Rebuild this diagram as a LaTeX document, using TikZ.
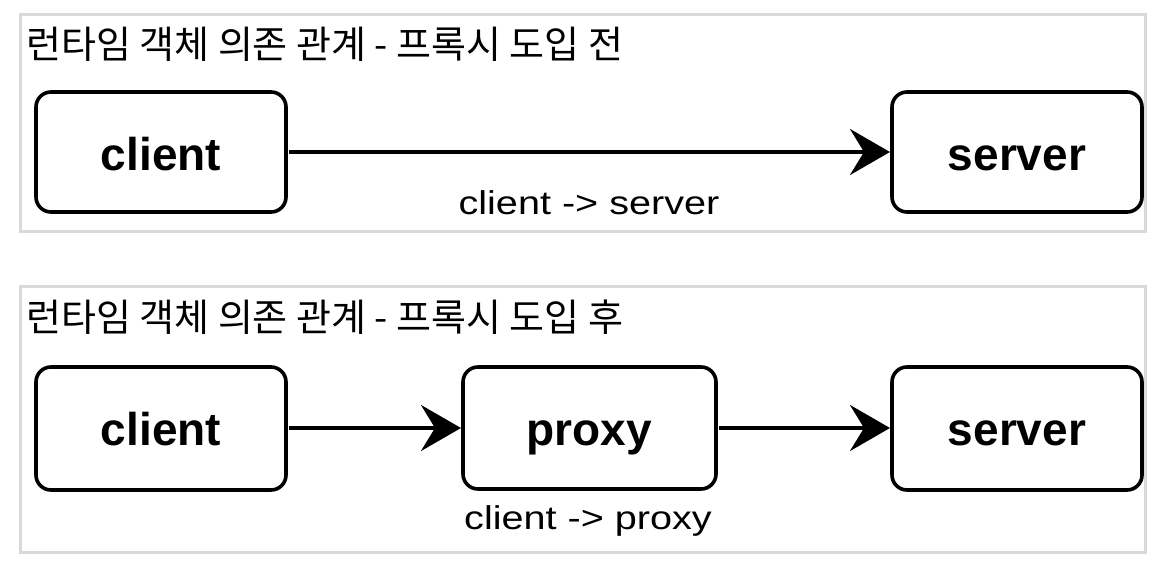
\documentclass[tikz,border=0pt]{standalone}
\usepackage{fontspec}
\usepackage{graphicx}
\setmainfont{Liberation Sans}
\newfontfamily\kr{Noto Sans CJK KR}
\usetikzlibrary{arrows.meta}
\definecolor{panelgray}{HTML}{D9D9D9}
\tikzset{
  panel/.style={draw=panelgray, line width=3pt},
  obj/.style={draw=black, line width=3.6pt, rounded corners=15pt, fill=white},
  objtext/.style={font=\fontsize{46}{50}\selectfont\bfseries, anchor=base, inner sep=0pt},
  title/.style={font=\kr\fontsize{38}{42}\selectfont, anchor=base west, inner sep=0pt},
  lbl/.style={font=\fontsize{33}{38}\selectfont, anchor=base, inner sep=0pt},
  dep/.style={line width=3.6pt, -{Stealth[length=40pt,width=46pt,inset=14pt]}, shorten <=3pt, shorten >=2pt}
}
\begin{document}
\begin{tikzpicture}[x=1pt,y=-1pt]
\useasboundingbox (0,0) rectangle (1164,567);
% panels
\draw[panel] (20,15) rectangle (1145,231);
\draw[panel] (20,286) rectangle (1145,552);
% top panel
\node[title] (t1) at (26,59) {런타임 객체 의존 관계 - 프록시 도입 전};
\draw[obj] (36,92) rectangle (286,212);
\node[objtext] (c1) at (161,170) {client};
\coordinate (c1e) at (286,152);
\draw[obj] (892,92) rectangle (1142,212);
\node[objtext] (s1) at (1017,170) {server};
\coordinate (s1w) at (892,152);
\draw[dep] (c1e) -- (s1w);
\node[lbl] (l1) at (589,214) {\scalebox{1.2}[1]{client -> server}};
% bottom panel
\node[title] (t2) at (26,331) {런타임 객체 의존 관계 - 프록시 도입 후};
\draw[obj] (36,367) rectangle (286,490);
\node[objtext] (c2) at (161,445) {client};
\coordinate (c2e) at (286,428);
\draw[obj] (463,367) rectangle (716,489);
\node[objtext] (p2) at (589.5,445) {proxy};
\coordinate (p2w) at (463,428);
\coordinate (p2e) at (716,428);
\draw[obj] (892,367) rectangle (1142,490);
\node[objtext] (s2) at (1017,445) {server};
\coordinate (s2w) at (892,428);
\draw[dep] (c2e) -- (p2w);
\draw[dep] (p2e) -- (s2w);
\node[lbl] (l2) at (588,529) {\scalebox{1.2}[1]{client -> proxy}};
\end{tikzpicture}
\end{document}
